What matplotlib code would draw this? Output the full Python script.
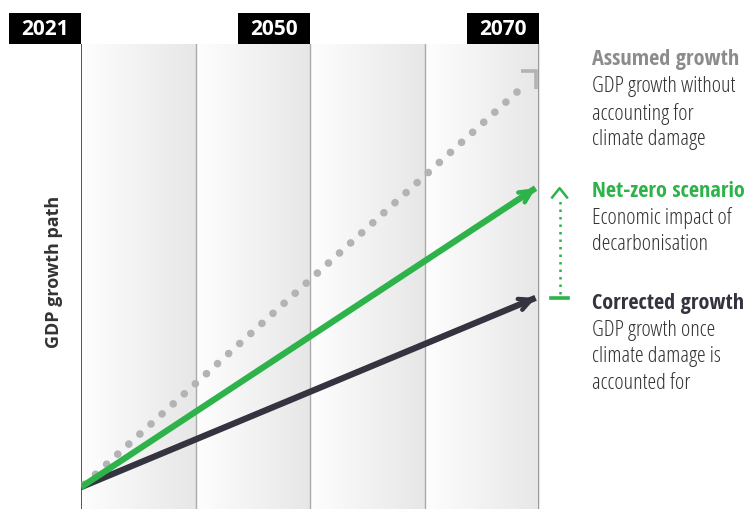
import numpy as np
import matplotlib
matplotlib.use("Agg")
import matplotlib.pyplot as plt
from matplotlib.patches import Rectangle

# timeline header labels and the panel index each one sits over
years = ["2021", "2050", "2070"]
year_pos = [0, 2, 4]
n_panels = 4

# growth paths: start value and end value (index, 0-100)
start_x, end_x = 0.0, 3.97
start_y = 4.7
assumed_end = 93.5
netzero_end = 69.0
corrected_end = 45.4

labels = [
    ("Assumed growth", ["GDP growth without", "accounting for", "climate damage"], "#8c8c8c", 98.9),
    ("Net-zero scenario", ["Economic impact of", "decarbonisation"], "#2db34a", 70.6),
    ("Corrected growth", ["GDP growth once", "climate damage is", "accounted for"], "#33343f", 46.5),
]

GREEN = "#2db34a"
DARK = "#33343f"
GREY = "#b3b3b3"

fig = plt.figure(figsize=(7.48, 5.09), dpi=100)
ax = fig.add_axes([81 / 748, 0, 458 / 748, 465 / 509])
ax.set_xlim(0, n_panels)
ax.set_ylim(0, 100)
ax.axis("off")

# shaded panels, white on the left fading to light grey
grad = np.linspace(0.995, 0.905, 200)
rgb = np.dstack([grad, grad, grad])
for i in range(n_panels):
    ax.imshow(rgb, extent=[i, i + 1, 0, 100], aspect="auto", zorder=0)
for i in range(1, n_panels):
    ax.axvline(i, color="#ababab", lw=1.0, zorder=1)
ax.axvline(0, color="#555555", lw=1.4, zorder=1)
ax.axvline(n_panels, color="#8a8a8a", lw=1.2, zorder=1)

# year boxes along the top, right edge on the panel divider
box_w, box_h = 0.63, 6.6
for yr, p in zip(years, year_pos):
    ax.add_patch(Rectangle((p - box_w, 100), box_w, box_h, fc="black", ec="none",
                           clip_on=False, zorder=5))
    ax.text(p - box_w / 2, 100 + box_h / 2 - 0.2, yr, ha="center", va="center", color="white",
            fontsize=15, fontweight="bold", family="Open Sans", clip_on=False, zorder=6)

ax.text(-0.24, 51, "GDP growth path", rotation=90, ha="center", va="center",
        fontsize=13, fontweight="bold", family="Open Sans", color="#333333",
        clip_on=False)

# assumed growth: grey dotted line with a corner tick at the end
ax.plot([start_x + 0.03, end_x - 0.08], [start_y + 0.6, assumed_end - 2.0], color=GREY, lw=5.5,
        linestyle=(0, (0.01, 1.95)), dash_capstyle="round", zorder=3)
ax.plot([end_x - 0.13, end_x, end_x], [assumed_end + 0.6, assumed_end + 0.6, assumed_end - 3.2],
        color=GREY, lw=2.6, solid_capstyle="butt", solid_joinstyle="miter", zorder=3)

# net-zero and corrected paths with open arrowheads
for end_y, col in [(corrected_end, DARK), (netzero_end, GREEN)]:
    ax.plot([start_x, end_x], [start_y, end_y], color=col, lw=4.5,
            solid_capstyle="butt", zorder=4)
    ax.annotate("", xy=(end_x, end_y),
                xytext=(start_x + 0.9 * (end_x - start_x), start_y + 0.9 * (end_y - start_y)),
                arrowprops=dict(arrowstyle="->,head_length=0.85,head_width=0.42",
                                color=col, lw=3.2, shrinkA=0, shrinkB=0), zorder=4)

# gap between corrected and net-zero outcomes
gx = 4.18
ax.plot([gx, gx], [corrected_end + 0.8, netzero_end - 2.0], color=GREEN, lw=1.8,
        linestyle=(0, (1, 2.0)), clip_on=False, zorder=4)
ax.plot([gx - 0.075, gx + 0.075], [corrected_end, corrected_end], color=GREEN, lw=2.6,
        clip_on=False, zorder=4)
ax.plot([gx - 0.065, gx, gx + 0.065], [netzero_end - 2.0, netzero_end, netzero_end - 2.0],
        color=GREEN, lw=1.8, clip_on=False, zorder=4)

# legend text on the right
tx = 4.46
for head, lines, col, y in labels:
    ax.text(tx, y, head, ha="left", va="top", color=col, fontsize=16,
            fontweight="bold", family="Open Sans Condensed", clip_on=False)
    for k, line in enumerate(lines):
        ax.text(tx, y - 5.75 * (k + 1), line, ha="left", va="top", color="#333333",
                fontsize=16, family="Open Sans", fontstretch="condensed",
                fontweight="light", clip_on=False)

fig.savefig("out.png", dpi=100)
